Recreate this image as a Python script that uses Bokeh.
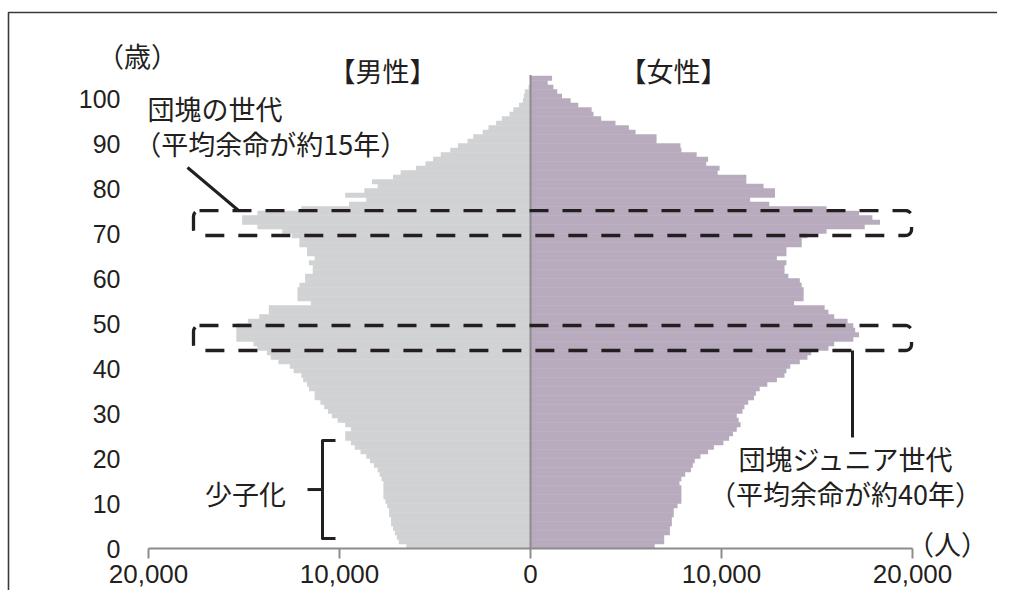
import math
from bokeh.plotting import figure
from bokeh.models import Range1d, Label, ColumnDataSource
from bokeh.core.properties import value
from bokeh.embed import file_html
from bokeh.resources import INLINE

# ---------------- data ----------------
ages = list(range(105))  # 0 .. 104
male = [
    6500, 6900, 7000, 7100, 7200, 7300, 7300, 7400, 7400, 7500,      # 0-9
    7600, 7700, 7700, 7700, 7700, 7800, 7900, 8000, 8200, 8400,      # 10-19
    8600, 8900, 9200, 9400, 9700, 9700, 9400, 9700, 10100, 10400,    # 20-29
    10600, 10800, 11000, 11300, 11300, 11600, 11700, 11900, 12000, 12400,  # 30-39
    12600, 13200, 13600, 13800, 14300, 14500, 15400, 15400, 15400, 15400,  # 40-49
    14800, 14200, 13700, 13700, 11500, 12200, 12200, 12200, 12100, 11800,  # 50-59
    11800, 11400, 11400, 11600, 11300, 11700, 11700, 12100, 12100, 12500,  # 60-69
    13000, 14300, 15100, 15100, 14300, 12000, 9500, 8600, 9700, 8700,      # 70-79
    8000, 8300, 7200, 6800, 6000, 5500, 5100, 4700, 4200, 3800,            # 80-89
    3300, 3000, 2500, 2200, 1800, 1500, 1100, 900, 600, 400,               # 90-99
    350, 300, 100, 0, 0,                                                   # 100-104
]
female = [
    6500, 7000, 7000, 7300, 7300, 7400, 7400, 7500, 7500, 7700,      # 0-9
    7900, 7900, 7900, 7900, 7800, 7900, 8100, 8400, 8500, 8600,      # 10-19
    8900, 9300, 9600, 10100, 10400, 10600, 10800, 11000, 10900, 10800,  # 20-29
    11100, 11200, 11400, 11700, 11800, 12000, 12400, 12900, 13300, 13400,  # 30-39
    13600, 14100, 14500, 14700, 15600, 15900, 16900, 17200, 17000, 16900,  # 40-49
    16600, 15900, 15600, 15400, 13800, 14300, 14300, 14300, 14200, 14100,  # 50-59
    13500, 13300, 13300, 13400, 12900, 13400, 13400, 14200, 14200, 14500,  # 60-69
    15500, 17500, 18300, 17900, 17200, 15500, 12500, 11500, 12800, 12800,  # 70-79
    12200, 11300, 11300, 9800, 9900, 9200, 9300, 8700, 7900, 7850,         # 80-89
    6600, 6600, 5500, 5150, 4450, 3700, 3300, 3200, 2500, 2100,            # 90-99
    1650, 1400, 1200, 900, 1130,                                           # 100-104
]
x_ticks = [-20000, -10000, 0, 10000, 20000]
x_tick_labels = ["20,000", "10,000", "0", "10,000", "20,000"]
y_ticks = [0, 10, 20, 30, 40, 50, 60, 70, 80, 90, 100]
y_tick_labels = [str(t) for t in y_ticks]

MALE = "#d1d2d4"
FEMALE = "#b8abbe"
AXIS = "#8c8c8c"
INK = "#231f20"
JP = "Noto Sans CJK JP"
NUM = "Liberation Sans"

# ---------------- figure ----------------
# the plotting frame fills the whole figure; ranges chosen so that the
# pyramid (-20000..20000, 0..100) sits where it does in the original
W, H = 997, 590
LEFT, BASE = 148, 548          # pixel position of x=-20000 and of age 0
XPU = 40000 / 764.0            # data units per pixel (x)
YPU = 1 / 4.5                  # data units per pixel (y)
p = figure(width=W, height=H,
           x_range=Range1d(-20000 - LEFT * XPU, -20000 + (W - LEFT) * XPU),
           y_range=Range1d(-(H - BASE) * YPU, BASE * YPU),
           output_backend="svg", toolbar_location=None,
           min_border=0, min_border_left=0, min_border_right=0,
           min_border_top=0, min_border_bottom=0)
p.axis.visible = False
p.grid.visible = False
p.outline_line_color = None
p.background_fill_color = "white"
p.border_fill_color = "white"

x0, x1 = p.x_range.start, p.x_range.end
y0, y1 = p.y_range.start, p.y_range.end

# outer frame lines (top and left)
p.line(x=[x0 + 8 * XPU, x0 + 8 * XPU, x1], y=[y0, y1 - 12 * YPU, y1 - 12 * YPU],
       line_color="#3a3a3a", line_width=1.6)

src = ColumnDataSource(dict(
    y=[a + 0.5 for a in ages],
    m=[-v for v in male],
    f=female,
))
p.hbar(y="y", left="m", right=0, height=1.08, source=src,
       fill_color=MALE, line_color=None)
p.hbar(y="y", left=0, right="f", height=1.08, source=src,
       fill_color=FEMALE, line_color=None)

# centre axis line
p.segment(x0=[0], y0=[0], x1=[0], y1=[105.2], line_color=AXIS, line_width=2)

# x axis: line, ticks, labels
p.segment(x0=[x_ticks[0]], y0=[0], x1=[x_ticks[-1]], y1=[0], line_color=AXIS, line_width=2)
p.segment(x0=x_ticks, y0=[0] * len(x_ticks), x1=x_ticks, y1=[-10 * YPU] * len(x_ticks),
          line_color=AXIS, line_width=2)
p.text(x=x_ticks, y=[-25 * YPU] * len(x_ticks), text=x_tick_labels,
       text_align="center", text_baseline="middle",
       text_font=value(NUM), text_font_size="26px", text_color=INK)

# y axis labels
p.text(x=[-20000 - 28 * XPU] * len(y_ticks), y=y_ticks, text=y_tick_labels,
       text_align="right", text_baseline="middle",
       text_font=value(NUM), text_font_size="25px", text_color=INK)

# ---------------- annotations ----------------
def label(x, y, text, align="center", size="27px"):
    p.add_layout(Label(x=x, y=y, text=text, text_align=align, text_baseline="middle",
                       text_font=JP, text_font_size=size, text_color=INK))

label(-20576, 109.6, "（歳）")
label(-7749, 106.2, "【男性】")
label(7487, 106.2, "【女性】")
label(-20052, 97.8, "団塊の世代", align="left")
label(-20750, 90.0, "（平均余命が約15年）", align="left")
label(16545, 20.0, "団塊ジュニア世代")
label(16492, 12.2, "（平均余命が約40年）")
label(-14921, 12.2, "少子化")
label(21832, 1.1, "（人）")

# leader line for 団塊の世代
p.line(x=[-17958, -15288], y=[84.67, 75.11], line_color=INK, line_width=3)
# leader line for 団塊ジュニア世代
p.line(x=[16859, 16859], y=[44.0, 24.67], line_color=INK, line_width=3)

# brace for 少子化
p.line(x=[-10209, -10890, -10890, -10209], y=[24.0, 24.0, 2.22, 2.22],
       line_color=INK, line_width=3, line_join="round")
p.line(x=[-11675, -10890], y=[13.1, 13.1], line_color=INK, line_width=3)

# dashed rounded boxes
def rounded_box(bx0, bx1, by0, by1, r=6):
    rx, ry = r * XPU, r * YPU
    xs, ys = [], []
    def arc(cx, cy, a0, a1):
        for i in range(7):
            a = math.radians(a0 + (a1 - a0) * i / 6)
            xs.append(cx + rx * math.cos(a))
            ys.append(cy + ry * math.sin(a))
    xs.append(bx0 + rx); ys.append(by1)
    xs.append(bx1 - rx); ys.append(by1)
    arc(bx1 - rx, by1 - ry, 90, 0)
    xs.append(bx1); ys.append(by0 + ry)
    arc(bx1 - rx, by0 + ry, 0, -90)
    xs.append(bx0 + rx); ys.append(by0)
    arc(bx0 + rx, by0 + ry, -90, -180)
    xs.append(bx0); ys.append(by1 - ry)
    arc(bx0 + rx, by1 - ry, 180, 90)
    p.line(x=xs, y=ys, line_color=INK, line_width=3.3, line_dash="19 14")

rounded_box(-17644, 19950, 69.56, 75.1)
rounded_box(-17644, 19950, 44.0, 49.56)

open("out.html", "w").write(file_html(p, INLINE))
